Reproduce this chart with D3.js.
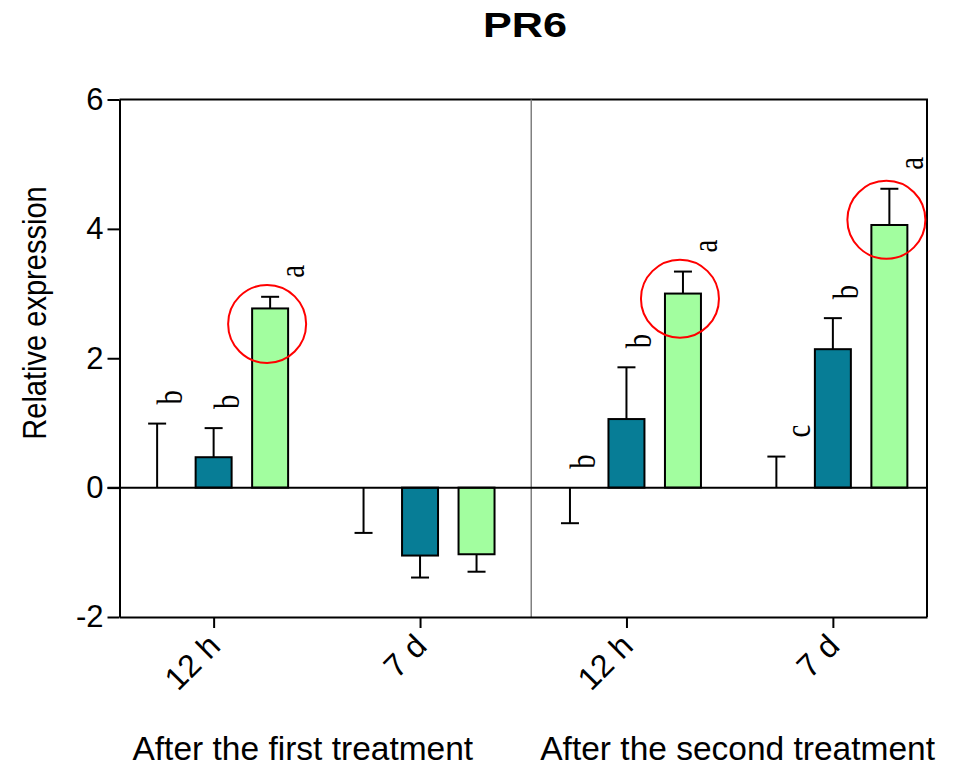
<!DOCTYPE html>
<html>
<head>
<meta charset="utf-8">
<script src="https://cdn.jsdelivr.net/npm/d3@7"></script>
<style>
body { margin: 0; background: #fff; }
svg { display: block; font-family: "Liberation Sans", Arial, sans-serif; }
</style>
</head>
<body>
<div id="chart"></div>
<script>
// values
const groups = ['g1', 'g2', 'g3', 'g4'];
const timeLabels = ['12 h', '7 d', '12 h', '7 d'];
const treatmentLabels = ['After the first treatment', 'After the second treatment'];
const seriesNames = ['control', 'treatA', 'treatB'];

const controlMean = [0, 0, 0, 0];
const controlTip = [0.99, -0.70, -0.55, 0.48];
const tealMean = [0.47, -1.05, 1.06, 2.14];
const tealTip = [0.92, -1.39, 1.86, 2.62];
const greenMean = [2.77, -1.03, 3.00, 4.06];
const greenTip = [2.95, -1.30, 3.34, 4.62];

const controlLetters = ['b', '', 'b', 'c'];
const tealLetters = ['b', '', 'b', 'b'];
const greenLetters = ['a', '', 'a', 'a'];

// red highlight rings on the green bars (value where the ring is centred)
const circleAt = [2.53, null, 2.92, 4.14];

const yTicks = [-2, 0, 2, 4, 6];

const colors = {control: '#ffffff', treatA: '#077d96', treatB: '#a2fe9f'};

const rows = [];
groups.forEach((g, i) => {
    rows.push({group: g, series: 'control', mean: controlMean[i], tip: controlTip[i], letter: controlLetters[i]});
    rows.push({group: g, series: 'treatA', mean: tealMean[i], tip: tealTip[i], letter: tealLetters[i]});
    rows.push({group: g, series: 'treatB', mean: greenMean[i], tip: greenTip[i], letter: greenLetters[i], ring: circleAt[i]});
});

const svg = d3.select('#chart').append('svg')
    .attr('width', 960)
    .attr('height', 767);

const plot = {left: 119.5, right: 927, top: 99.5, bottom: 617};

const x0 = d3.scalePoint().domain(groups).range([plot.left, plot.right]).padding(0.456);
const x1 = d3.scaleBand().domain(seriesNames).range([-95, 95]).padding(0.363);
const y = d3.scaleLinear().domain([-2, 6]).range([plot.bottom, plot.top]);

const cx = d => x0(d.group) + x1(d.series) + x1.bandwidth() / 2;

// frame (top + right)
svg.append('path')
    .attr('d', `M${plot.left},${plot.top}H${plot.right}V${plot.bottom}`)
    .attr('fill', 'none')
    .attr('stroke', '#000')
    .attr('stroke-width', 2);

// divider between the two treatments
const divX = (x0('g2') + x0('g3')) / 2 + 8;
svg.append('line')
    .attr('x1', divX).attr('x2', divX)
    .attr('y1', plot.top).attr('y2', plot.bottom)
    .attr('stroke', '#808080')
    .attr('stroke-width', 1.5);

// bars
svg.append('g').selectAll('rect')
    .data(rows.filter(d => d.mean !== 0))
    .join('rect')
    .attr('x', d => x0(d.group) + x1(d.series))
    .attr('width', x1.bandwidth())
    .attr('y', d => y(Math.max(0, d.mean)))
    .attr('height', d => Math.abs(y(d.mean) - y(0)))
    .attr('fill', d => colors[d.series])
    .attr('stroke', '#000')
    .attr('stroke-width', 2);

// error bars
const err = svg.append('g').attr('stroke', '#000').attr('stroke-width', 2);
err.selectAll('line.stem')
    .data(rows)
    .join('line')
    .attr('class', 'stem')
    .attr('x1', cx).attr('x2', cx)
    .attr('y1', d => y(d.mean))
    .attr('y2', d => y(d.tip));
err.selectAll('line.cap')
    .data(rows)
    .join('line')
    .attr('class', 'cap')
    .attr('x1', d => cx(d) - 9).attr('x2', d => cx(d) + 9)
    .attr('y1', d => y(d.tip))
    .attr('y2', d => y(d.tip));

// zero line
svg.append('line')
    .attr('x1', plot.left - 12).attr('x2', plot.right)
    .attr('y1', y(0)).attr('y2', y(0))
    .attr('stroke', '#000')
    .attr('stroke-width', 2);

// y axis
const yAxis = svg.append('g')
    .attr('transform', `translate(${plot.left},0)`)
    .call(d3.axisLeft(y).tickValues(yTicks).tickSize(12).tickSizeOuter(0).tickPadding(4)
        .tickFormat(d => String(d)));
yAxis.select('.domain').attr('stroke-width', 2);
yAxis.selectAll('.tick line').attr('stroke-width', 2);
yAxis.selectAll('text')
    .attr('font-size', 31)
    .attr('font-family', '"Liberation Sans", Arial, sans-serif')
    .attr('fill', '#000');

// x axis
const xAxis = svg.append('g')
    .attr('transform', `translate(0,${plot.bottom})`)
    .call(d3.axisBottom(x0).tickSize(11).tickSizeOuter(0).tickFormat((d, i) => timeLabels[i]));
xAxis.select('.domain').attr('stroke-width', 2);
xAxis.selectAll('.tick line').attr('stroke-width', 2);
xAxis.selectAll('text')
    .attr('font-size', 32)
    .attr('font-family', '"Liberation Sans", Arial, sans-serif')
    .attr('fill', '#000')
    .attr('text-anchor', 'end')
    .attr('x', 0).attr('y', 0).attr('dy', 0)
    .attr('transform', 'translate(8,31) rotate(-45)');

// significance letters (rotated, sitting above the error bar)
svg.append('g').selectAll('text')
    .data(rows.filter(d => d.letter))
    .join('text')
    .attr('transform', d => {
        const topPx = Math.min(y(d.tip), y(d.mean), y(0));
        const dx = d.letter === 'b' ? 25 : 34;
        return `translate(${cx(d) + dx},${topPx - 19}) rotate(-90) scale(0.8,1)`;
    })
    .attr('font-family', '"Liberation Serif", "DejaVu Serif", serif')
    .attr('font-size', 36)
    .attr('text-anchor', 'start')
    .text(d => d.letter);

// red rings
svg.append('g').selectAll('circle')
    .data(rows.filter(d => d.ring != null))
    .join('circle')
    .attr('cx', d => cx(d) - 3)
    .attr('cy', d => y(d.ring))
    .attr('r', 39)
    .attr('fill', 'none')
    .attr('stroke', '#ff0000')
    .attr('stroke-width', 2);

// title
svg.append('text')
    .attr('transform', 'translate(525,37) scale(1.2,1)')
    .attr('text-anchor', 'middle')
    .attr('font-size', 36)
    .attr('font-weight', 'bold')
    .text('PR6');

// y label
svg.append('text')
    .attr('transform', 'translate(46,313) rotate(-90) scale(0.88,1)')
    .attr('text-anchor', 'middle')
    .attr('font-size', 33)
    .text('Relative expression');

// treatment labels
const mid1 = (x0('g1') + x0('g2')) / 2 - 14;
const mid2 = (x0('g3') + x0('g4')) / 2 + 8;
svg.append('g').selectAll('text')
    .data(treatmentLabels)
    .join('text')
    .attr('x', (d, i) => i === 0 ? mid1 : mid2)
    .attr('y', 760)
    .attr('text-anchor', 'middle')
    .attr('font-size', 33.5)
    .text(d => d);
</script>
</body>
</html>
